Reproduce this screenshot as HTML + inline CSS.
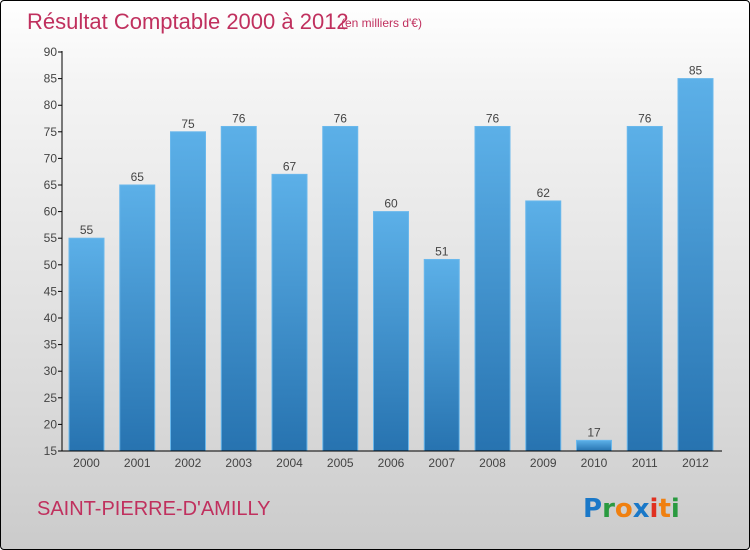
<!DOCTYPE html>
<html><head><meta charset="utf-8"><style>
body{margin:0}
#c{position:relative;width:748px;height:548px;border:1px solid #000;border-radius:4px;background:linear-gradient(#fff,#f4f4f4 15%,#d9d9d9 75%,#cbcbcb);overflow:hidden;font-family:"Liberation Sans",sans-serif}
</style></head><body>
<div id="c">
<svg width="748" height="548">
<defs><linearGradient id="g" x1="0" y1="0" x2="0" y2="1"><stop offset="0" stop-color="#5cb0e8"/><stop offset="1" stop-color="#2773b0"/></linearGradient></defs>
<text x="26" y="28" font-size="22" fill="#c0305e">Résultat Comptable 2000 à 2012</text>
<text x="340" y="26" font-size="12" fill="#c0305e">(en milliers d'€)</text>
<g id="plot"></g>
<text x="36" y="514" font-size="20" fill="#c0305e">SAINT-PIERRE-D'AMILLY</text>
<g font-size="26" font-weight="bold" font-family="'DejaVu Sans',sans-serif">
<text x="582" y="516"><tspan fill="#1a78c8">P</tspan><tspan fill="#2a9a40">r</tspan><tspan fill="#f08010">o</tspan><tspan fill="#1a78c8">x</tspan><tspan fill="#e03020">i</tspan><tspan fill="#f08010">t</tspan><tspan fill="#2a9a40">i</tspan></text>
</g>
</svg>
</div>
<script>
const categories=["2000","2001","2002","2003","2004","2005","2006","2007","2008","2009","2010","2011","2012"];
const values=[55,65,75,76,67,76,60,51,76,62,17,76,85];
const yTicks=[15,20,25,30,35,40,45,50,55,60,65,70,75,80,85,90];
const NS="http://www.w3.org/2000/svg";
const g=document.getElementById('plot');
const y=v=>450-(v-15)*(399/75);
const x=i=>68+i*50.75;
function mk(t,a,txt){const e=document.createElementNS(NS,t);for(const k in a)e.setAttribute(k,a[k]);if(txt!==undefined)e.textContent=txt;g.appendChild(e);return e;}
yTicks.forEach(t=>{
const l=mk('line',{x1:57,x2:61,y1:y(t),y2:y(t),stroke:'#000'});


const tx=mk('text',{x:56,y:y(t)+4,'text-anchor':'end','font-size':12,fill:'#444'},t);


});
categories.forEach((c,i)=>{
const v=values[i];
const r=mk('rect',{x:x(i),y:y(v),width:35,height:450-y(v),fill:'url(#g)',stroke:'#6ab8ec','stroke-width':1});


const vl=mk('text',{x:x(i)+17.5,y:y(v)-4,'text-anchor':'middle','font-size':12,fill:'#444'},v);


const xl=mk('text',{x:x(i)+17.5,y:466,'text-anchor':'middle','font-size':12,fill:'#444'},c);


});
const ya=mk('line',{x1:61,x2:61,y1:50,y2:450,stroke:'#000'});


const xa=mk('line',{x1:61,x2:721,y1:450,y2:450,stroke:'#000'});


</script>
</body></html>
